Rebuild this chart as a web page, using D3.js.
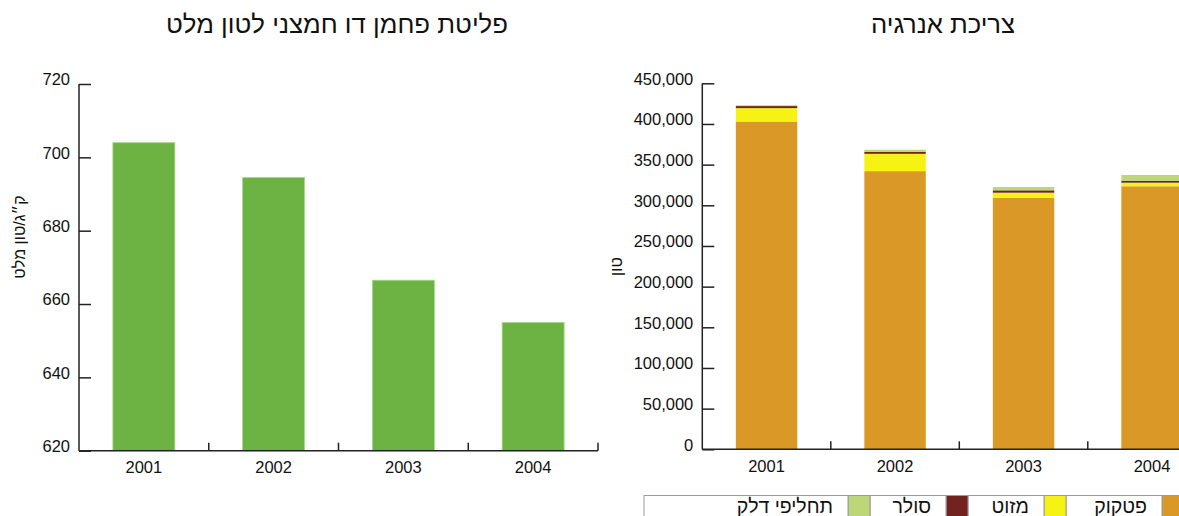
<!DOCTYPE html>
<html>
<head>
<meta charset="utf-8">
<script src="https://cdn.jsdelivr.net/npm/d3@7"></script>
<style>
  html, body { margin: 0; padding: 0; background: #fff; }
  svg { display: block; }
  text { font-family: "Liberation Sans", Arial, sans-serif; fill: #111; }
</style>
</head>
<body>
<svg id="chart" width="1179" height="516"></svg>
<script>
// ---------- DATA ----------
const years = ["2001", "2002", "2003", "2004"];

// Left chart: CO2 emission per ton clinker (kg/ton)
const emissionValues = [704, 694.5, 666.5, 655];
const emissionTicks = [620, 640, 660, 680, 700, 720];

// Right chart: energy consumption (tons), stacked
const seriesNames = ["פטקוק", "מזוט", "סולר", "תחליפי דלק"];
const seriesColors = ["#DA9926", "#F6F213", "#73231F", "#BDD677"];
const petcoke   = [403000, 342000, 309300, 323400];
const mazut     = [16500, 21300, 6200, 4400];
const solar     = [2500, 2500, 2900, 2400];
const fuelSubst = [1000, 2500, 4100, 7100];
const energyTicks = [0, 50000, 100000, 150000, 200000, 250000, 300000, 350000, 400000, 450000];

const leftTitle = "פליטת פחמן דו חמצני לטון מלט";
const rightTitle = "צריכת אנרגיה";
const leftYLabel = "ק\u05F4ג/טון מלט";
const rightYLabel = "טון";

// ---------- LAYOUT ----------
const svg = d3.select("#chart");
const P_INNER = 0.522;
const tickFont = 16.5;

function drawPanel(cfg) {
  const g = svg.append("g");
  const x = d3.scaleBand().domain(years).range([cfg.x0, cfg.x1])
    .paddingInner(P_INNER).paddingOuter(P_INNER / 2);
  const y = d3.scaleLinear().domain(cfg.domain).range([cfg.yBottom, cfg.yTop]);

  cfg.drawBars(g, x, y);

  // y axis (ticks pointing inward)
  const ya = g.append("g").attr("transform", `translate(${cfg.x0},0)`)
    .call(d3.axisLeft(y).tickValues(cfg.ticks).tickFormat(cfg.fmt)
      .tickSizeInner(-12).tickSizeOuter(0).tickPadding(9));
  ya.select(".domain").attr("stroke", "#222").attr("stroke-width", 1.5)
    .attr("d", `M0,${cfg.yBottom}V${cfg.yTop}`);
  ya.selectAll(".tick line").attr("stroke", "#222").attr("stroke-width", 1.5);
  ya.selectAll(".tick text").attr("font-size", tickFont)
    .attr("font-family", "Liberation Sans, Arial, sans-serif")
    .attr("fill", "#111").attr("dy", "0.05em");

  // x axis
  const xa = g.append("g").attr("transform", `translate(0,${cfg.yBottom})`)
    .call(d3.axisBottom(x).tickSize(0).tickPadding(10.6));
  xa.select(".domain").attr("stroke", "#222").attr("stroke-width", 1.5)
    .attr("d", `M${cfg.x0},0H${cfg.x1}`);
  xa.selectAll(".tick text").attr("font-size", tickFont)
    .attr("font-family", "Liberation Sans, Arial, sans-serif").attr("fill", "#111");
  // separator ticks at band boundaries
  const half = x.step() * P_INNER / 2;
  xa.selectAll("line.sep").data(years).enter().append("line")
    .attr("class", "sep")
    .attr("x1", d => x(d) + x.bandwidth() + half)
    .attr("x2", d => x(d) + x.bandwidth() + half)
    .attr("y1", 0).attr("y2", -8)
    .attr("stroke", "#222").attr("stroke-width", 1.5);

  // title
  const t = svg.append("text").attr("x", cfg.titleX).attr("y", 33)
    .attr("text-anchor", "middle").attr("direction", "rtl")
    .attr("font-size", 25)
    .attr("font-family", "Liberation Sans Narrow, DejaVu Sans Condensed, Liberation Sans, sans-serif")
    .text(cfg.title);
  t.attr("textLength", cfg.titleW).attr("lengthAdjust", "spacingAndGlyphs");

  // y label
  svg.append("text")
    .attr("transform", `translate(${cfg.ylX},${cfg.ylY}) rotate(-90)`)
    .attr("text-anchor", "middle").attr("direction", "rtl")
    .attr("dy", "0.35em")
    .attr("font-size", 16).text(cfg.yLabel);
}

// Left panel
drawPanel({
  x0: 79, x1: 598, yTop: 84, yBottom: 450.7,
  domain: [620, 720], ticks: emissionTicks, fmt: d3.format("d"),
  title: leftTitle, titleX: 337, titleW: 342,
  yLabel: leftYLabel, ylX: 19, ylY: 237,
  drawBars: (g, x, y) => {
    g.selectAll("rect.em").data(years).enter().append("rect")
      .attr("class", "em")
      .attr("x", d => x(d)).attr("width", x.bandwidth())
      .attr("y", (d, i) => y(emissionValues[i]))
      .attr("height", (d, i) => y(620) - y(emissionValues[i]))
      .attr("fill", "#6CB343")
      .attr("stroke", "#A9D98C").attr("stroke-width", 0.8);
  }
});

// Right panel
const stackRows = years.map((yr, i) => ({
  year: yr, s0: petcoke[i], s1: mazut[i], s2: solar[i], s3: fuelSubst[i]
}));
const stack = d3.stack().keys(["s0", "s1", "s2", "s3"])(stackRows);

drawPanel({
  x0: 702.3, x1: 1216.3, yTop: 83.3, yBottom: 449.3,
  domain: [0, 450000], ticks: energyTicks, fmt: d3.format(","),
  title: rightTitle, titleX: 943, titleW: 144,
  yLabel: rightYLabel, ylX: 616.5, ylY: 266.5,
  drawBars: (g, x, y) => {
    const layers = g.selectAll("g.layer").data(stack).enter().append("g")
      .attr("class", "layer").attr("fill", (d, i) => seriesColors[i]);
    layers.selectAll("rect").data(d => d).enter().append("rect")
      .attr("x", d => x(d.data.year)).attr("width", x.bandwidth())
      .attr("y", d => y(d[1])).attr("height", d => y(d[0]) - y(d[1]));
  }
});

// Legend (right-to-left: swatch then label box)
const legendTop = 495.5, legendH = 30;
const legendBoxW = [96, 76, 76, 204];
const swW = 22;
let cursor = 1162;
const lg = svg.append("g");
seriesNames.forEach((name, i) => {
  lg.append("rect").attr("x", cursor).attr("y", legendTop)
    .attr("width", swW).attr("height", legendH)
    .attr("fill", seriesColors[i]).attr("stroke", "#9a9a9a").attr("stroke-width", 1);
  const bx = cursor - legendBoxW[i];
  lg.append("rect").attr("x", bx).attr("y", legendTop)
    .attr("width", legendBoxW[i]).attr("height", legendH)
    .attr("fill", "#fff").attr("stroke", "#9a9a9a").attr("stroke-width", 1);
  lg.append("text").attr("x", cursor - 15).attr("y", 513)
    .attr("text-anchor", "end").attr("font-size", 19.5).text(name);
  cursor = bx - swW;
});
</script>
</body>
</html>
